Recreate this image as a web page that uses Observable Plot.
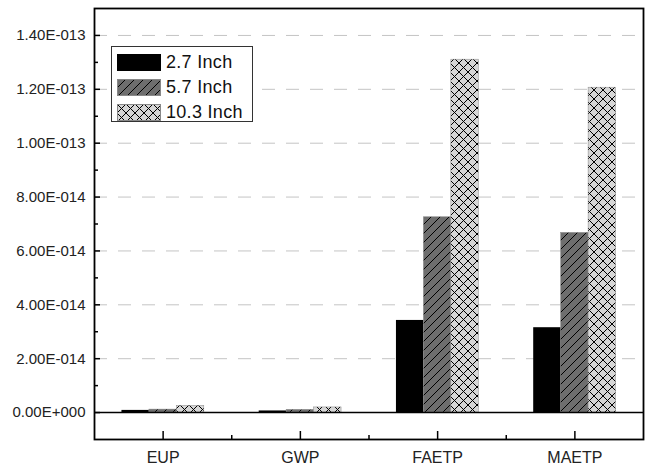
<!DOCTYPE html>
<html>
<head>
<meta charset="utf-8">
<script src="https://cdn.jsdelivr.net/npm/d3@7"></script>
<script src="https://cdn.jsdelivr.net/npm/@observablehq/plot@0.6"></script>
<style>
  html, body { margin: 0; padding: 0; background: #fff; }
  #wrap { position: relative; width: 651px; height: 470px; font-family: "Liberation Sans", Arial, sans-serif; }
  #legend { position: absolute; left: 111px; top: 46px; width: 142px; height: 76px; border: 1px solid #333; background: #fff; box-sizing: border-box; }
  .row { position: absolute; left: 5px; height: 17px; display: flex; align-items: center; }
  .row span { margin-left: 5px; font-size: 18px; color: #111; letter-spacing: 0.3px; }
</style>
</head>
<body>
<svg width="0" height="0" style="position:absolute">
  <defs>
    <pattern id="hatch" patternUnits="userSpaceOnUse" width="9" height="9">
      <rect width="9" height="9" fill="#6e6e6e"></rect>
      <path d="M0,9 L9,0 M-2.25,2.25 L2.25,-2.25 M6.75,11.25 L11.25,6.75" stroke="#000" stroke-width="1"></path>
    </pattern>
    <pattern id="cross" patternUnits="userSpaceOnUse" width="9" height="9">
      <rect width="9" height="9" fill="#d6d6d6"></rect>
      <path d="M0,0 L9,9 M0,9 L9,0" stroke="#000" stroke-width="1"></path>
    </pattern>
  </defs>
</svg>
<div id="wrap"></div>
<script>
const categories = ["EUP", "GWP", "FAETP", "MAETP"];
const series = ["2.7 Inch", "5.7 Inch", "10.3 Inch"];
const values_2_7 = [0.8e-15, 0.6e-15, 3.42e-14, 3.15e-14];
const values_5_7 = [1.1e-15, 1.0e-15, 7.25e-14, 6.67e-14];
const values_10_3 = [2.5e-15, 1.9e-15, 1.31e-13, 1.206e-13];
const seriesValues = [values_2_7, values_5_7, values_10_3];
const fills = ["#000", "url(#hatch)", "url(#cross)"];
const yTicks = [0, 2e-14, 4e-14, 6e-14, 8e-14, 1e-13, 1.2e-13, 1.4e-13];
const yMinorTicks = [1e-14, 3e-14, 5e-14, 7e-14, 9e-14, 1.1e-13, 1.3e-13];
const gridTicks = yTicks.slice(1);
const xTicks = [0, 1, 2, 3];
const xMinorTicks = [0.5, 1.5, 2.5];

function fmtE(v) {
  if (v === 0) return "0.00E+000";
  let e = Math.floor(Math.log10(Math.abs(v)));
  let m = v / Math.pow(10, e);
  if (Math.abs(m) >= 9.995) { m /= 10; e += 1; }
  if (Math.abs(m) < 1) { m *= 10; e -= 1; }
  const s = e < 0 ? "-" : "+";
  return m.toFixed(2) + "E" + s + String(Math.abs(e)).padStart(3, "0");
}

const barWidth = 0.2;
const bars = [];
series.forEach((s, j) => {
  categories.forEach((c, i) => {
    const x1 = i - 0.3 + j * barWidth;
    bars.push({ series: s, j, category: c, x1, x2: x1 + barWidth, value: seriesValues[j][i] });
  });
});

const chart = Plot.plot({
  width: 651,
  height: 470,
  marginLeft: 94,
  marginRight: 8,
  marginTop: 8,
  marginBottom: 31,
  style: { fontFamily: "'Liberation Sans', Arial, sans-serif", background: "#fff" },
  x: { type: "linear", domain: [-0.5, 3.5], label: null },
  y: { type: "linear", domain: [-1e-14, 1.5e-13], label: null },
  marks: [
    Plot.ruleY(gridTicks, { stroke: "#c4c4c4", strokeWidth: 1, strokeDasharray: "13,11" }),
    ...series.map((s, j) => Plot.rectY(bars.filter(d => d.j === j), {
      x1: "x1", x2: "x2", y1: 0, y2: "value",
      fill: fills[j],
      stroke: j === 0 ? null : "#888",
      strokeWidth: 0.5
    })),
    Plot.ruleY([0], { stroke: "#000", strokeWidth: 1.6 }),
    Plot.axisY(yTicks, { anchor: "left", tickSize: -6, text: null, label: null, strokeWidth: 1.5 }),
    Plot.axisY(yMinorTicks, { anchor: "left", tickSize: -4, text: null, label: null, strokeWidth: 1.5 }),
    Plot.axisY(yTicks, { anchor: "left", tickSize: 0, tickPadding: 9, label: null, tickFormat: fmtE, fontSize: 15, fill: "#222", style: "letter-spacing:1.1px" }),
    Plot.axisX(xTicks, { anchor: "bottom", tickSize: -8, text: null, label: null, strokeWidth: 1.5 }),
    Plot.axisX(xMinorTicks, { anchor: "bottom", tickSize: -4, text: null, label: null, strokeWidth: 1.5 }),
    Plot.axisX(xTicks, { anchor: "bottom", tickSize: 0, tickPadding: 12, label: null, tickFormat: i => categories[i], fontSize: 16, fill: "#222" }),
    Plot.frame({ stroke: "#000", strokeWidth: 1.8 })
  ]
});

const wrap = document.getElementById("wrap");
wrap.appendChild(chart);

const legend = document.createElement("div");
legend.id = "legend";
series.forEach((s, j) => {
  const row = document.createElement("div");
  row.className = "row";
  row.style.top = (7 + j * 25) + "px";
  row.innerHTML = `<svg width="44" height="17"><rect x="0.5" y="0.5" width="43" height="16" fill="${fills[j]}" stroke="${j === 0 ? '#000' : '#888'}" stroke-width="1"></rect></svg><span>${s}</span>`;
  legend.appendChild(row);
});
wrap.appendChild(legend);
</script>
</body>
</html>
